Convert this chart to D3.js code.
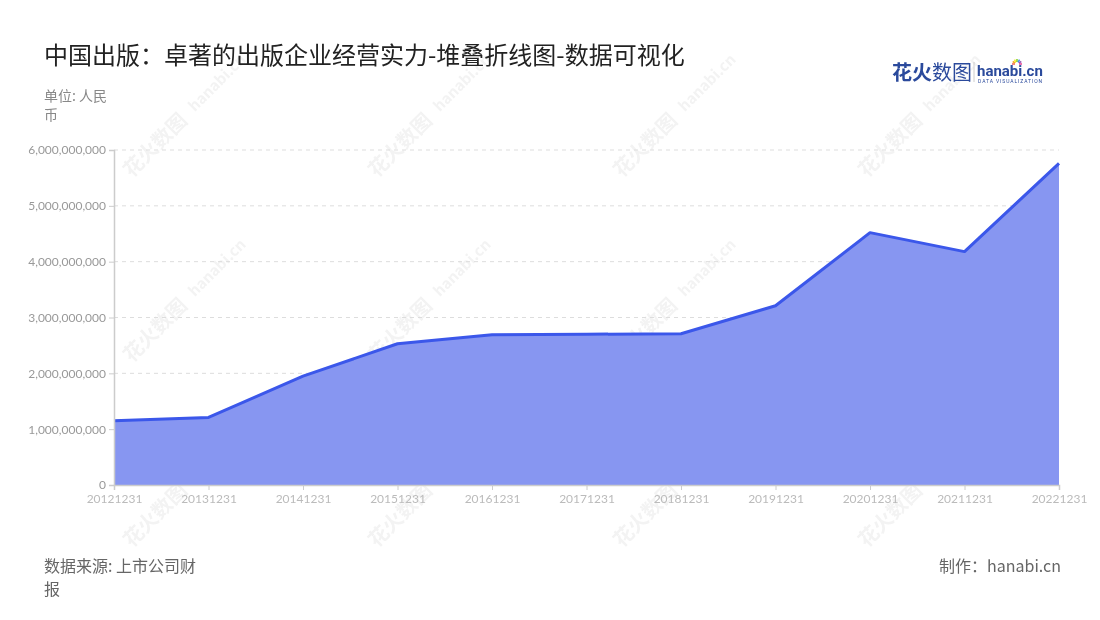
<!DOCTYPE html>
<html><head><meta charset="utf-8">
<script src="https://cdn.jsdelivr.net/npm/d3@7"></script>
<style>
html,body{margin:0;padding:0;background:#fff;}
svg{display:block;font-family:"Noto Sans CJK SC","Noto Sans",sans-serif;}
</style></head>
<body><svg id="chart" width="1100" height="620"></svg>
<script>
const categories = ["20121231","20131231","20141231","20151231","20161231","20171231","20181231","20191231","20201231","20211231","20221231"];
const values = [1.15e9,1.21e9,1.95e9,2.53e9,2.69e9,2.70e9,2.71e9,3.21e9,4.52e9,4.18e9,5.76e9];
const yTicks = [0,1e9,2e9,3e9,4e9,5e9,6e9];

const svg = d3.select("#chart");
const m = {left:114, right:1059, top:150, bottom:485};

// watermarks
const wm = svg.append("g").attr("opacity",0.08);
const wmPos = [];
[160,405,650,895].forEach(x=>{[150,335,520].forEach(y=>wmPos.push([x,y]));});
wmPos.forEach(([x,y])=>{
  const g = wm.append("g").attr("transform",`translate(${x},${y}) rotate(-45)`);
  g.append("text").attr("x",0).attr("y",0).attr("font-size",20).attr("font-weight",700).attr("fill","#666").attr("text-anchor","middle").text("花火数图");
  g.append("text").attr("x",88).attr("y",-2).attr("font-size",15).attr("font-weight",700).attr("fill","#666").attr("text-anchor","middle").text("hanabi.cn");
});

const x = d3.scalePoint().domain(categories).range([m.left,m.right]);
const y = d3.scaleLinear().domain([0,6e9]).range([m.bottom,m.top]);

// grid
svg.append("g").selectAll("line").data(yTicks.slice(1)).join("line")
  .attr("x1",m.left).attr("x2",m.right).attr("y1",d=>y(d)).attr("y2",d=>y(d))
  .attr("stroke","#ddd").attr("stroke-dasharray","4,4");

// area
const area = d3.area().x((d,i)=>x(categories[i])).y0(y(0)).y1(d=>y(d));
svg.append("path").datum(values).attr("d",area).attr("fill","#8796f1");
const line = d3.line().x((d,i)=>x(categories[i])).y(d=>y(d));
svg.append("path").datum(values).attr("d",line).attr("fill","none").attr("stroke","#3b57ea").attr("stroke-width",3).attr("stroke-linejoin","round");

// y axis
const ya = svg.append("g").attr("transform",`translate(${m.left},0)`)
  .call(d3.axisLeft(y).tickValues(yTicks).tickFormat(d3.format(",")).tickSize(5).tickPadding(3));
ya.select(".domain").attr("stroke","#ccc").attr("stroke-width",1.5);
ya.selectAll(".tick line").attr("stroke","#ccc");
ya.selectAll("text").attr("fill","#999").attr("font-size",12).attr("font-family","Lato, 'Noto Sans', sans-serif");

// x axis
const xa = svg.append("g").attr("transform",`translate(0,${m.bottom})`)
  .call(d3.axisBottom(x).tickSize(5).tickPadding(4));
xa.select(".domain").attr("stroke","#ccc").attr("stroke-width",1.5);
xa.selectAll(".tick line").attr("stroke","#ccc");
xa.selectAll("text").attr("fill","#bbb").attr("font-size",12).attr("font-family","Lato, 'Noto Sans', sans-serif");

// title
svg.append("text").attr("x",44).attr("y",64).attr("font-size",24).attr("fill","#222").text("中国出版：卓著的出版企业经营实力-堆叠折线图-数据可视化");
svg.append("text").attr("x",44).attr("y",101).attr("font-size",14).attr("fill","#888").text("单位: 人民");
svg.append("text").attr("x",44).attr("y",120).attr("font-size",14).attr("fill","#888").text("币");

// footer
svg.append("text").attr("x",44).attr("y",572).attr("font-size",16).attr("fill","#666").text("数据来源: 上市公司财");
svg.append("text").attr("x",44).attr("y",595).attr("font-size",16).attr("fill","#666").text("报");
svg.append("text").attr("x",1061).attr("y",572).attr("font-size",16).attr("fill","#666").attr("text-anchor","end").text("制作：hanabi.cn");

// logo
const lg = svg.append("g");
lg.append("text").attr("x",892).attr("y",80).attr("font-size",20).attr("font-weight",700).attr("fill","#2b4a9c").text("花火");
lg.append("text").attr("x",932).attr("y",80).attr("font-size",20).attr("fill","#2b4a9c").text("数图");
lg.append("line").attr("x1",974).attr("x2",974).attr("y1",62).attr("y2",82).attr("stroke","#ccc");
lg.append("text").attr("x",977).attr("y",76).attr("font-size",15).attr("font-weight",700).attr("fill","#2b4a9c").attr("font-family","Roboto, sans-serif").text("hanabi.cn");
lg.append("text").attr("x",978).attr("y",83).attr("font-size",5).attr("fill","#2b4a9c").attr("font-family","Roboto, sans-serif").attr("letter-spacing",0.9).text("DATA VISUALIZATION");
const sparkC = ["#f05a5a","#f5a623","#f8e71c","#7ed321","#4a90e2","#9b59b6","#e84393"];
sparkC.forEach((c,i)=>{
  const a = -Math.PI + i*Math.PI/6;
  lg.append("line").attr("x1",1017+Math.cos(a)*2).attr("y1",64+Math.sin(a)*2).attr("x2",1017+Math.cos(a)*5).attr("y2",64+Math.sin(a)*5).attr("stroke",c).attr("stroke-width",1.5);
});
</script></body></html>
